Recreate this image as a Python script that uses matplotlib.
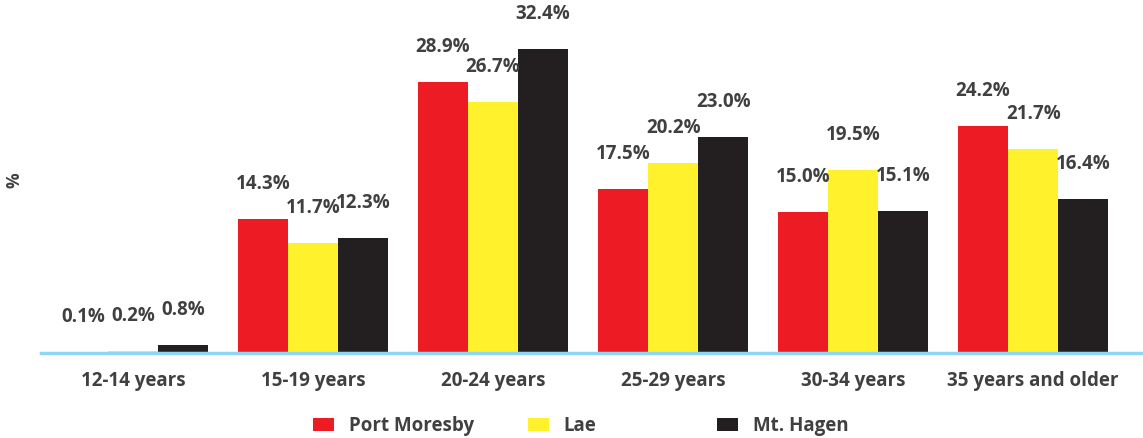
import matplotlib.pyplot as plt
import numpy as np

# data
categories = ['12-14 years', '15-19 years', '20-24 years', '25-29 years',
              '30-34 years', '35 years and older']
port_moresby = [0.1, 14.3, 28.9, 17.5, 15.0, 24.2]
lae = [0.2, 11.7, 26.7, 20.2, 19.5, 21.7]
mt_hagen = [0.8, 12.3, 32.4, 23.0, 15.1, 16.4]
series_names = ['Port Moresby', 'Lae', 'Mt. Hagen']

# style
colors = ['#ed1c24', '#fff22d', '#231f20']
text_color = '#404040'
base_color = '#8fd6f6'
font = 'Open Sans'
plt.rcParams['font.family'] = [font, 'DejaVu Sans']
fsize = 13.5

fig = plt.figure(figsize=(11.43, 4.38), dpi=100)
ax = fig.add_axes([41/1143, 85/438, 1102/1143, 353/438])

x = np.arange(len(categories))
width = 0.278
handles = []
for k, (vals, name) in enumerate(zip([port_moresby, lae, mt_hagen], series_names)):
    bars = ax.bar(x + (k - 1)*width, vals, width, color=colors[k], label=name, zorder=2)
    ax.bar_label(bars, labels=['%.1f%%' % v for v in vals], padding=18,
                 fontsize=fsize, fontweight='bold', color=text_color)
    handles.append(bars)

ax.set_xlim(-0.511, 5.61)
ax.set_ylim(0, 37.6)

for s in ['top', 'right', 'left']:
    ax.spines[s].set_visible(False)
ax.spines['bottom'].set_color(base_color)
ax.spines['bottom'].set_linewidth(2.5)
ax.spines['bottom'].set_zorder(3)
ax.set_yticks([])
ax.set_xticks(x)
ax.set_xticklabels(categories, fontsize=fsize, fontweight='bold', color=text_color)
ax.tick_params(axis='x', length=0, pad=13)

ax.set_ylabel('%', fontsize=12.5, fontweight='bold', color=text_color)
ax.yaxis.set_label_coords(-0.0155, 0.49)

# legend entries, one per series
legend_x = [313, 528, 717]
for h, name, lx in zip(handles, series_names, legend_x):
    fig.legend(handles=[h], labels=[name], loc='center left',
               bbox_to_anchor=(lx/1143, 1 - 426/438), frameon=False,
               borderpad=0, borderaxespad=0, handlelength=1.1, handleheight=0.75,
               handletextpad=0.8,
               prop={'family': font, 'weight': 'bold', 'size': fsize})
for t in fig.legends:
    for txt in t.get_texts():
        txt.set_color(text_color)

plt.savefig('out.png', dpi=100)
